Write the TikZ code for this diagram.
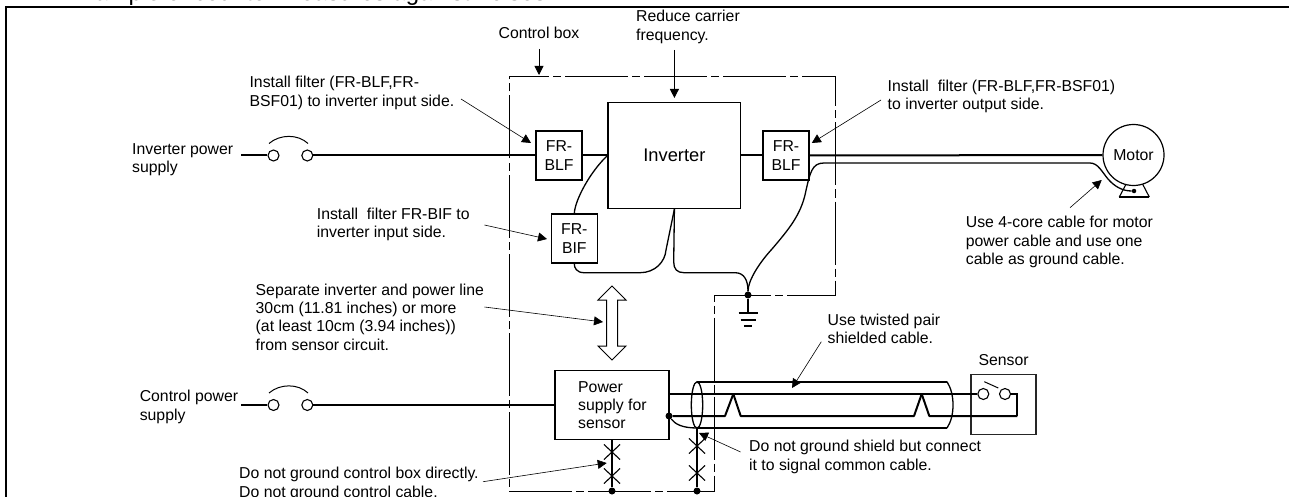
\documentclass[tikz,border=0pt]{standalone}
\usepackage{fontspec}
\setmainfont{Liberation Sans}
\usetikzlibrary{arrows.meta,shapes.misc}
\tikzset{
  note/.style={anchor=west, align=left, inner sep=0pt, font=\fontsize{15.8}{18.3}\selectfont},
  box/.style={draw, line width=1.2pt, inner sep=0pt, align=center, font=\fontsize{15.8}{18.3}\selectfont},
  contact/.style={circle, draw, line width=1.1pt, inner sep=0pt, minimum size=11pt},
  junction/.style={circle, fill=black, inner sep=0pt, minimum size=7pt},
  crossmark/.style={cross out, draw, line width=1.1pt, inner sep=0pt, minimum width=15pt, minimum height=14pt},
  wire/.style={line width=2pt},
  thinwire/.style={line width=1.3pt},
  leader/.style={line width=0.6pt, -{Triangle[length=9pt, width=9pt]}},
  boxline/.style={line width=0.9pt, dash pattern=on 63pt off 4pt on 8pt off 4pt, dash phase=23pt}
}
\begin{document}
\begin{tikzpicture}[x=1pt, y=-1pt]
    \clip (0,0) rectangle (1289,497);

    % Define frame and control box
    \draw[line width=2pt] (6,497) -- (6,6.7) -- (1289,6.7);
    \draw[boxline] (509.4,76.5) -- (835.4,76.5) -- (835.4,295) -- (714.5,295) -- (714.5,491) -- (509.4,491) -- cycle;

    % Define boxes
    \node[box, minimum width=46pt, minimum height=49pt] (blf1) at (559,155.5) {FR-\\BLF};
    \node[box, minimum width=46pt, minimum height=49pt] (blf2) at (786,155.5) {FR-\\BLF};
    \node[box, minimum width=46pt, minimum height=49pt] (bif) at (574.3,238.5) {FR-\\BIF};
    \node[box, minimum width=132.7pt, minimum height=106pt, font=\fontsize{18.3}{20}\selectfont] (inv) at (674.4,155.5) {Inverter};
    \node[box, minimum width=114pt, minimum height=68.3pt] (psu) at (612,405) {};
    \node[box, minimum width=65pt, minimum height=60pt, draw=black!85] (sensor) at (1003.5,404.3) {};
    \node[box, circle, minimum size=61pt] (motor) at (1133.5,155) {Motor};

    % Define contacts and junctions
    \node[contact] (sw1a) at (273.5,155.5) {};
    \node[contact] (sw1b) at (307.3,155.5) {};
    \node[contact] (sw2a) at (273.5,405) {};
    \node[contact] (sw2b) at (307.3,405) {};
    \node[contact] (sw3a) at (983.3,394) {};
    \node[contact] (sw3b) at (1005,394) {};
    \node[junction] (j1) at (748,295) {};
    \node[junction] (j2) at (612,491) {};
    \node[junction] (j3) at (697,491) {};
    \node[junction] (j4) at (669,416) {};
    \node[circle, fill=black, inner sep=0pt, minimum size=4.5pt] (j5) at (1134,191) {};
    \node[crossmark] (x1) at (612,452) {};
    \node[crossmark] (x2) at (612,476) {};
    \node[crossmark] (x3) at (697,446) {};
    \node[crossmark] (x4) at (697,473) {};

    % Define free line ends
    \coordinate (in1) at (241,155.5);
    \coordinate (in2) at (241,405);
    \coordinate (gnd) at (748,313);
    \coordinate (shieldt) at (697,381.7);
    \coordinate (shieldb) at (697,428);
    \coordinate (shieldrt) at (947,381.7);
    \coordinate (shieldrb) at (947,428);
    \coordinate (cmn) at (1017.3,416);

    % Draw power lines
    \draw[wire] (in1) -- (sw1a);
    \draw[wire] (sw1b) -- (blf1);
    \draw[wire] (blf1) -- (blf1 -| inv.west);
    \draw[wire] (inv) -- (blf2);
    \draw[wire] (blf2) -- (motor);
    \draw[wire] (in2) -- (sw2a);
    \draw[wire] (sw2b) -- (psu);

    % Draw switch arcs
    \draw[line width=1pt] (269,143.5) .. controls (280,134) and (298,134) .. (308,143.5);
    \draw[line width=1pt] (269,393) .. controls (280,383.5) and (298,383.5) .. (308,393);
    \draw[line width=1pt] (984.3,381.7) -- (998.3,388);

    % Draw thin curved wires
    \draw[thinwire] (bif.north) .. controls (575,200) and (590,172) .. (blf1 -| inv.west);
    \draw[thinwire] (bif.south) .. controls (574,268) and (577,272.7) .. (584,272.7) -- (640,272.7) .. controls (655,272.7) and (665,262) .. (666,250) -- (inv.south);
    \draw[thinwire] (inv.south) -- (673.7,262) .. controls (673.7,269) and (677,272.7) .. (684,272.7) -- (735,272.7) .. controls (744,272.7) and (748,280) .. (j1);
    \draw[thinwire] (j1) .. controls (748,280) and (760,262) .. (772,249) .. controls (790,228) and (800,215) .. (805,195) .. controls (810,172) and (812,163) .. (824,163) -- (1090,163) .. controls (1098,163) and (1102,172) .. (1108,179) .. controls (1114,186) and (1122,191) .. (j5);
    \draw[thinwire] (j1) -- (gnd);

    % Draw ground symbol
    \draw[line width=1.6pt] (gnd) ++(-9.5,0) -- ++(19,0);
    \draw[line width=1.6pt] (gnd) ++(-7.5,7) -- ++(15,0);
    \draw[line width=1.6pt] (gnd) ++(-4,13) -- ++(8,0);

    % Draw lines below the supply box
    \draw[thinwire] (psu.south) -- (j2);
    \draw[thinwire] (shieldb) -- (j3);

    % Draw shielded cable
    \draw[thinwire] (697,405) ellipse (5.7 and 23.2);
    \draw[wire] (shieldt) -- (shieldrt);
    \draw[wire] (shieldb) -- (shieldrb);
    \draw[thinwire] (shieldrt) .. controls (951,388) and (953,396) .. (953,405) .. controls (953,414) and (951,422) .. (shieldrb);
    \draw[thinwire] (j4) .. controls (675,424) and (682,428) .. (shieldb);

    % Draw twisted pair
    \draw[wire] (psu.east |- sw3a) -- (sw3a);
    \draw[wire] (sw3b) -- (1017.3,394) -- (cmn);
    \draw[wire, line join=round] (j4) -- (725,416) -- (733.3,394);
    \draw[wire, line join=round] (733.3,394) -- (740.7,416) -- (914,416) -- (921.7,394);
    \draw[wire, line join=round] (921.7,394) -- (929.3,416) -- (cmn);

    % Draw separation arrow
    \draw[line width=1pt, fill=white] (612,286) -- (626,300) -- (617.5,300) -- (617.5,346) -- (626,346) -- (612,360) -- (598,346) -- (606.5,346) -- (606.5,300) -- (598,300) -- cycle;

    % Add labels
    \node[anchor=base west, inner sep=0pt, font=\fontsize{24}{24}\selectfont] (title) at (67,1) {Example of counter measures against noises};
    \node[note, anchor=center] (lctl) at (539,33) {Control box};
    \node[note] (lcar) at (636,27) {Reduce carrier\\frequency.};
    \node[note] (lblf1) at (249.4,93) {Install filter (FR-BLF,FR-\\BSF01) to inverter input side.};
    \node[note] (lblf2) at (887.5,96.5) {Install\ \ filter (FR-BLF,FR-BSF01)\\to inverter output side.};
    \node[note] (lbif) at (316.7,224.5) {Install\ \ filter FR-BIF to\\inverter input side.};
    \node[note] (lsep) at (255.5,317) {Separate inverter and power line\\30cm (11.81 inches) or more\\(at least 10cm (3.94 inches))\\from sensor circuit.};
    \node[note] (lipw) at (132,159.5) {Inverter power\\supply};
    \node[note] (lcpw) at (139.6,407) {Control power\\supply};
    \node[note] (lmot) at (965.7,242) {Use 4-core cable for motor\\power cable and use one\\cable as ground cable.};
    \node[note] (ltwp) at (827.5,329) {Use twisted pair\\shielded cable.};
    \node[note, anchor=center] (lsen) at (1003.6,360) {Sensor};
    \node[note] (lshd) at (749,457) {Do not ground shield but connect\\it to signal common cable.};
    \node[note] (lgnd) at (239,484) {Do not ground control box directly.\\Do not ground control cable.};
    \node[note] (lpsu) at (578,405) {Power\\supply for\\sensor};

    % Define leader ends
    \coordinate (a1) at (539,49);    \coordinate (b1) at (539,75);
    \coordinate (a2) at (674.4,50);  \coordinate (b2) at (674.4,98);
    \coordinate (a3) at (461,99);    \coordinate (b3) at (531,143);
    \coordinate (a4) at (881,100);   \coordinate (b4) at (811.8,143);
    \coordinate (a5) at (484.5,225); \coordinate (b5) at (547,239);
    \coordinate (a6) at (484.5,307); \coordinate (b6) at (603,322);
    \coordinate (a7) at (483,481.7); \coordinate (b7) at (606.7,463);
    \coordinate (a8) at (1070,207.7);\coordinate (b8) at (1101.7,180);
    \coordinate (a9) at (821.3,341.7);\coordinate (b9) at (792,388);
    \coordinate (a10) at (740.6,452);\coordinate (b10) at (699,433);

    % Draw leaders
    \draw[leader, line width=0.9pt] (a1) -- (b1);
    \draw[leader, line width=0.9pt] (a2) -- (b2);
    \draw[leader] (a3) -- (b3);
    \draw[leader] (a4) -- (b4);
    \draw[leader] (a5) -- (b5);
    \draw[leader] (a6) -- (b6);
    \draw[leader] (a7) -- (b7);
    \draw[leader] (a8) -- (b8);
    \draw[leader] (a9) -- (b9);
    \draw[leader] (a10) -- (b10);

    % Draw motor base
    \draw[line width=1.1pt] (1126,184.3) -- (1119.3,197);
    \draw[line width=1.1pt] (1142.7,184.3) -- (1149.3,197);
    \draw[line width=1.8pt] (1119.3,197) -- (1149.3,197);
\end{tikzpicture}
\end{document}
